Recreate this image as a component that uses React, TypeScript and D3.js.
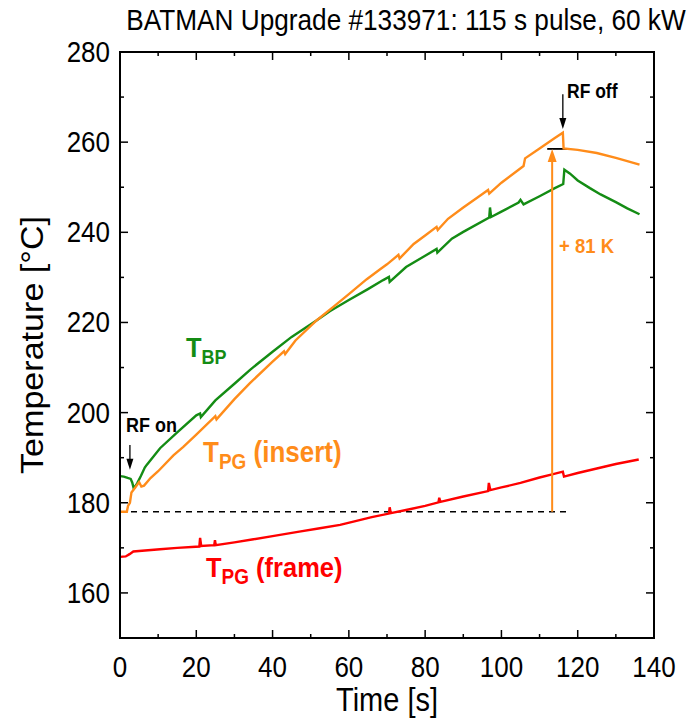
import React from 'react';
import * as d3 from 'd3';

// BATMAN Upgrade #133971 – temperatures during a 115 s pulse
const xTicks = [0, 20, 40, 60, 80, 100, 120, 140];
const yTicks = [160, 180, 200, 220, 240, 260, 280];

const tpgInsert: [number, number][] = [
  [0, 178], [1.8, 178], [2.1, 179.3], [2.6, 180], [3, 182.3], [4, 183.4], [5, 184.6], [5.6, 183.6],
  [6.3, 183.8], [8, 185.5], [10, 187], [14, 190.5], [16.6, 192.4], [20, 195.1], [25, 199.2],
  [25.3, 198.5], [30, 203], [34, 206.5], [40, 211.3], [43, 213.6], [43.3, 213], [46, 216],
  [51.6, 220.5], [56, 223.5], [60, 226.3], [64.7, 229.6], [68.2, 231.8], [70, 232.9], [73, 235],
  [73.3, 234.2], [77, 237.4], [80, 239.3], [83, 241.2], [83.3, 240.5], [86, 243], [90, 245.5],
  [94, 247.9], [96.5, 249.4], [96.8, 248.6], [100, 251], [105.8, 254.7], [106.2, 256.4],
  [110, 258.6], [114, 260.9], [116.1, 262.1], [116.3, 258.6], [120, 258.3], [125, 257.6],
  [130, 256.5], [133, 255.8], [136.2, 255],
];

const tbp: [number, number][] = [
  [0, 185.9], [1, 185.8], [2, 185.5], [2.8, 185.3], [3.2, 184.5], [3.6, 183.2], [4.5, 184.3],
  [5.5, 186], [6.5, 187.8], [7, 188.4], [10.5, 192.1], [15, 195.6], [20, 199.4], [21, 199.8],
  [21.2, 199], [25, 202.7], [30, 206.4], [34.1, 209.5], [40, 213.5], [45, 216.8], [51.6, 220.5],
  [55, 222.5], [60, 225], [65, 227.4], [69, 229.4], [70.5, 230.1], [70.7, 229], [75, 232.3],
  [80, 234.8], [83, 236.3], [83.2, 235.5], [87, 238.6], [90, 240.1], [96.8, 243.3], [97, 245.5],
  [97.3, 243.4], [100, 244.6], [104.5, 246.6], [105, 247.2], [105.8, 246.2], [110, 248],
  [114, 249.8], [116.2, 250.7], [116.5, 253.9], [118, 253], [120, 251.5], [123.2, 249.8],
  [126, 248.4], [130, 246.7], [133, 245.3], [136.2, 244],
];

const tpgFrame: [number, number][] = [
  [0, 168], [1.5, 168.1], [2.5, 168.6], [3.5, 169.2], [5, 169.3], [10.5, 169.7], [15, 170],
  [20.8, 170.3], [21, 172.2], [21.3, 170.4], [24.7, 170.6], [24.9, 171.7], [25.1, 170.6],
  [30, 171.2], [35, 171.9], [40, 172.6], [47, 173.6], [52, 174.3], [57.7, 175.1], [62, 176],
  [66, 176.8], [70.5, 177.6], [70.7, 179], [71, 177.7], [75, 178.4], [80, 179.3], [83.5, 180.1],
  [83.7, 181.1], [84, 180.2], [90, 181.4], [96.5, 182.6], [96.7, 184.4], [97.1, 182.8],
  [100, 183.4], [105, 184.4], [110, 185.6], [113.3, 186.3], [116.1, 186.9], [116.4, 185.8],
  [120, 186.6], [125, 187.6], [130, 188.6], [136, 189.6],
];

const GREEN = '#148c14';
const ORANGE = '#ff8c1a';
const RED = '#ff0000';
const FONT = 'Liberation Sans, Arial, sans-serif';
const S = 1.12; // vertical stretch of the original figure's text

const W = 689, H = 721;
const m = { left: 120, right: 654, top: 52, bottom: 638 };

export default function App() {
  const x = d3.scaleLinear().domain([0, 140]).range([m.left, m.right]);
  const y = d3.scaleLinear().domain([150, 280]).range([m.bottom, m.top]);
  const line = d3.line<[number, number]>().x(d => x(d[0])).y(d => y(d[1]));

  const xMinor = d3.range(10, 140, 20);
  const yMinor = d3.range(150, 280, 10).filter(v => v % 20 !== 0);

  const txt = (px: number, py: number, props: any, children: React.ReactNode) => (
    <text transform={`translate(${px},${py}) scale(1,${S})`} fontFamily={FONT} {...props}>{children}</text>
  );

  // downward arrow: shaft from y1 to the tip at y2
  const downArrow = (px: number, y1: number, y2: number, color: string, w: number, len: number, sw: number) => (
    <g>
      <line x1={px} x2={px} y1={y1} y2={y2 - len + 1} stroke={color} strokeWidth={sw} />
      <path d={`M${px},${y2} L${px - w},${y2 - len} L${px + w},${y2 - len} Z`} fill={color} />
    </g>
  );

  const ax = x(113.3);
  const tipY = y(258.5);
  return (
    <svg width={W} height={H} style={{ position: 'absolute', left: 0, top: 0, background: '#fff' }}>
      {txt(406, 30, { fontSize: 26.2, textAnchor: 'middle' }, 'BATMAN Upgrade #133971: 115 s pulse, 60 kW')}

      {/* dashed reference and annotations */}
      <line x1={x(0)} x2={x(117)} y1={y(178)} y2={y(178)} stroke="#000" strokeWidth={1.5} strokeDasharray="6,5" />
      <line x1={x(112)} x2={x(117.5)} y1={tipY} y2={tipY} stroke="#000" strokeWidth={1.8} />

      <path d={line(tpgFrame) || ''} fill="none" stroke={RED} strokeWidth={2.4} />
      <path d={line(tbp) || ''} fill="none" stroke={GREEN} strokeWidth={2.4} />
      <path d={line(tpgInsert) || ''} fill="none" stroke={ORANGE} strokeWidth={2.4} />

      <line x1={ax} x2={ax} y1={y(178)} y2={tipY + 10} stroke={ORANGE} strokeWidth={2} />
      <path d={`M${ax},${tipY} L${ax - 4.5},${tipY + 13} L${ax + 4.5},${tipY + 13} Z`} fill={ORANGE} />
      {txt(559, 253, { fontSize: 18.5, fontWeight: 'bold', fill: ORANGE }, '+ 81 K')}

      {downArrow(x(116.1), y(270.6), y(262.9), '#000', 3.5, 11, 1.3)}
      {txt(567, 98, { fontSize: 17.5, fontWeight: 'bold' }, 'RF off')}

      {downArrow(x(2.6), y(192.8), y(187.3), '#000', 3.5, 11, 1.3)}
      {txt(126, 432, { fontSize: 18, fontWeight: 'bold' }, 'RF on')}

      {/* series labels */}
      {txt(186, 357, { fontSize: 25.5, fontWeight: 'bold', fill: GREEN }, <>T<tspan fontSize={18} dy={6}>BP</tspan></>)}
      {txt(203, 462, { fontSize: 26, fontWeight: 'bold', fill: ORANGE }, <>T<tspan fontSize={19} dy={6}>PG</tspan><tspan dy={-6}> (insert)</tspan></>)}
      {txt(206, 577, { fontSize: 25.5, fontWeight: 'bold', fill: RED }, <>T<tspan fontSize={19} dy={6}>PG</tspan><tspan dy={-6}> (frame)</tspan></>)}

      {/* frame and ticks */}
      <rect x={m.left} y={m.top} width={m.right - m.left} height={m.bottom - m.top} fill="none" stroke="#000" strokeWidth={2} />
      {xTicks.map(v => (
        <g key={'xt' + v}>
          <line x1={x(v)} x2={x(v)} y1={m.bottom} y2={m.bottom - 8} stroke="#000" strokeWidth={1.5} />
          <line x1={x(v)} x2={x(v)} y1={m.top} y2={m.top + 8} stroke="#000" strokeWidth={1.5} />
          {txt(x(v), 677, { fontSize: 26, textAnchor: 'middle' }, v)}
        </g>
      ))}
      {xMinor.map(v => (
        <g key={'xm' + v}>
          <line x1={x(v)} x2={x(v)} y1={m.bottom} y2={m.bottom - 4} stroke="#000" strokeWidth={1.5} />
          <line x1={x(v)} x2={x(v)} y1={m.top} y2={m.top + 4} stroke="#000" strokeWidth={1.5} />
        </g>
      ))}
      {yTicks.map(v => (
        <g key={'yt' + v}>
          <line x1={m.left} x2={m.left + 8} y1={y(v)} y2={y(v)} stroke="#000" strokeWidth={1.5} />
          <line x1={m.right} x2={m.right - 8} y1={y(v)} y2={y(v)} stroke="#000" strokeWidth={1.5} />
          {txt(110, y(v) + 10, { fontSize: 26, textAnchor: 'end' }, v)}
        </g>
      ))}
      {yMinor.map(v => (
        <g key={'ym' + v}>
          <line x1={m.left} x2={m.left + 4} y1={y(v)} y2={y(v)} stroke="#000" strokeWidth={1.5} />
          <line x1={m.right} x2={m.right - 4} y1={y(v)} y2={y(v)} stroke="#000" strokeWidth={1.5} />
        </g>
      ))}

      {txt(387, 711, { fontSize: 29, textAnchor: 'middle' }, 'Time [s]')}
      <text transform={`translate(43,345) rotate(-90) scale(1.1,1)`} fontFamily={FONT} fontSize={31} textAnchor="middle">Temperature [°C]</text>
    </svg>
  );
}
